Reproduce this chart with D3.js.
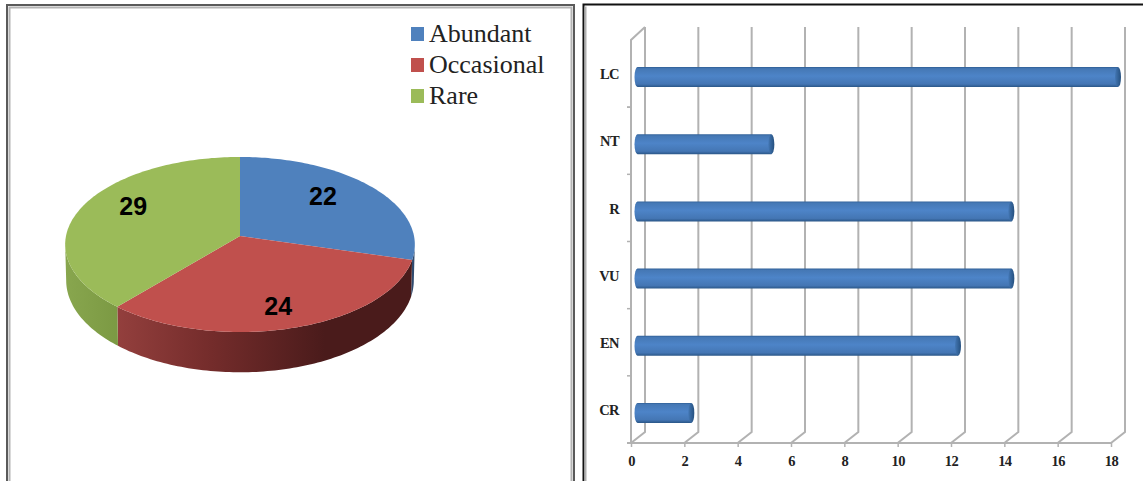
<!DOCTYPE html>
<html>
<head>
<meta charset="utf-8">
<script src="https://cdn.jsdelivr.net/npm/d3@7/dist/d3.min.js"></script>
<style>
html,body{margin:0;padding:0;background:#fff;overflow:hidden}
svg{display:block}
</style>
</head>
<body>
<svg id="chart" width="1143" height="481"></svg>
<script>
// Abundance classes (pie)
const abundanceClasses = ["Abundant", "Occasional", "Rare"];
const abundanceCounts = [22, 24, 29];
const abundanceColors = ["#4f81bd", "#c0504d", "#9bbb59"];

// Threat status (bars)
const statusCategories = ["CR", "EN", "VU", "R", "NT", "LC"];
const statusCounts = [2, 12, 14, 14, 5, 18];
const countTicks = [0, 2, 4, 6, 8, 10, 12, 14, 16, 18];

const svg = d3.select("#chart");
const defs = svg.append("defs");

function linearGradient(id, attrs, stops) {
  const g = defs.append("linearGradient").attr("id", id);
  Object.entries(attrs).forEach(([k, v]) => g.attr(k, v));
  stops.forEach(([o, c]) => g.append("stop").attr("offset", o).attr("stop-color", c));
}

/* ---------- panel frames ---------- */
const frames = svg.append("g").attr("fill", "none");
frames.append("path").attr("d", "M7,481V5H574V481").attr("stroke", "#5a5a5a").attr("stroke-width", 2);
frames.append("path").attr("d", "M9.5,481V7.5H571.5V481").attr("stroke", "#b4b4b4").attr("stroke-width", 2);
frames.append("path").attr("d", "M583.5,481V4.5H1143").attr("stroke", "#111").attr("stroke-width", 2);
frames.append("path").attr("d", "M585.5,481V6.5").attr("stroke", "#b0b0b0").attr("stroke-width", 2);

/* ---------- 3-D pie ---------- */
const disc = {cx: 240, cy: 236, rx: 174, ry: 86.7, k: 0.097};
const base = {cx: 240, cy: 271.5, rx: 173, ry: 91, k: 0.097};

// Projects a point of a tilted disc, nearer points appearing larger
function project(d, angle, r = 1) {
  const u = r * Math.sin(angle), v = -r * Math.cos(angle);
  const s = 1 / (1 - d.k * v);
  return [d.cx + d.rx * u * s, d.cy + d.ry * v * s];
}
function arcPoints(d, a0, a1) {
  const n = Math.max(2, Math.ceil(Math.abs(a1 - a0) / 0.02));
  return d3.range(n + 1).map(i => project(d, a0 + (a1 - a0) * i / n));
}

const pieLayout = d3.pie().sort(null)(abundanceCounts);
const wallFrom = Math.acos(-disc.k);
const wallTo = 2 * Math.PI - wallFrom;

linearGradient("wall0", {gradientUnits: "userSpaceOnUse", x1: 395, x2: 415, y1: 0, y2: 0},
  [[0, "#2f4a6e"], [1, "#2f4a6e"]]);
linearGradient("wall1", {gradientUnits: "userSpaceOnUse", x1: 118, x2: 325, y1: 0, y2: 0},
  [[0, "#933f3d"], [0.45, "#742c2b"], [1, "#4a1b1b"]]);
linearGradient("wall2", {gradientUnits: "userSpaceOnUse", x1: 66, x2: 119, y1: 0, y2: 0},
  [[0, "#88a64e"], [1, "#7b9943"]]);

const line = d3.line();
const pieGroup = svg.append("g");

// Side walls, only on the part of the rim that faces the viewer
pieGroup.selectAll("path.wall").data(pieLayout).join("path")
  .attr("class", "wall")
  .attr("fill", d => `url(#wall${d.index})`)
  .attr("d", d => {
    const a0 = Math.max(d.startAngle, wallFrom), a1 = Math.min(d.endAngle, wallTo);
    if (a1 <= a0) return null;
    return line([...arcPoints(disc, a0, a1), ...arcPoints(base, a1, a0)]) + "Z";
  });

// Top faces
pieGroup.selectAll("path.top").data(pieLayout).join("path")
  .attr("class", "top")
  .attr("fill", d => abundanceColors[d.index])
  .attr("d", d => line([[disc.cx, disc.cy], ...arcPoints(disc, d.startAngle, d.endAngle)]) + "Z");

// Value labels, placed along each slice's middle angle
const labelPlacement = [{r: 0.62, dy: -8.5}, {r: 0.71, dy: 7}, {r: 0.67, dy: -10}];
pieGroup.selectAll("text").data(pieLayout).join("text")
  .attr("transform", d => {
    const p = project(disc, (d.startAngle + d.endAngle) / 2, labelPlacement[d.index].r);
    return `translate(${p[0]},${p[1] + labelPlacement[d.index].dy})`;
  })
  .attr("text-anchor", "middle")
  .attr("dy", "0.35em")
  .attr("font-family", "Liberation Sans")
  .attr("font-weight", "bold")
  .attr("font-size", 25)
  .attr("fill", "#000")
  .text(d => d.data);

// Legend
const legendY = d3.scalePoint().domain(abundanceClasses).range([34, 96]);
const legend = svg.append("g").selectAll("g").data(abundanceClasses).join("g")
  .attr("transform", d => `translate(411,${legendY(d)})`);
legend.append("rect").attr("x", 0).attr("y", -7).attr("width", 13).attr("height", 14)
  .attr("fill", (d, i) => abundanceColors[i]);
legend.append("text").attr("x", 18).attr("y", 8)
  .attr("font-family", "Liberation Serif").attr("font-size", 26).attr("fill", "#222")
  .text(d => d);

/* ---------- 3-D horizontal bars ---------- */
const plot = {left: 631, right: 1111, top: 40, bottom: 443, dx: 14, dy: -11, barH: 20};
const x = d3.scaleLinear().domain([0, 18]).range([plot.left, plot.right]);
const y = d3.scaleBand().domain(statusCategories).range([plot.bottom, plot.top]);
const gridColor = "#b2b2b2";

const bars3d = svg.append("g");

// Back-wall grid with the floor segment running to the front axis
bars3d.append("g").selectAll("path").data(countTicks).join("path")
  .attr("fill", "none").attr("stroke", gridColor).attr("stroke-width", 2)
  .attr("d", t => line([
    [x(t), plot.bottom],
    [x(t) + plot.dx, plot.bottom + plot.dy],
    [x(t) + plot.dx, plot.top + plot.dy - 2]
  ]));

// Front vertical wall edge and its top return
bars3d.append("path").attr("fill", "none").attr("stroke", gridColor).attr("stroke-width", 2)
  .attr("d", line([[plot.left, plot.bottom], [plot.left, plot.top], [plot.left + plot.dx, plot.top + plot.dy - 2]]));

// Ticks sit on the band boundaries of the category axis
const boundaries = statusCategories.map(c => y(c)).concat(plot.bottom - y.bandwidth() * statusCategories.length);
bars3d.append("g").selectAll("line").data(boundaries).join("line")
  .attr("x1", plot.left - 4).attr("x2", plot.left)
  .attr("y1", d => d + y.bandwidth()).attr("y2", d => d + y.bandwidth())
  .attr("stroke", gridColor).attr("stroke-width", 1.5);

// Category labels
const yAxis = d3.axisLeft(y).tickSize(0).tickPadding(12);
const yG = bars3d.append("g").attr("transform", `translate(${plot.left},1)`).call(yAxis);
yG.select(".domain").remove();
yG.selectAll("text").attr("font-family", "Liberation Serif").attr("font-weight", "bold")
  .attr("font-size", 14.5).attr("letter-spacing", -0.6).attr("fill", "#222");

// Count axis
const xAxis = d3.axisBottom(x).tickValues(countTicks).tickSize(4).tickPadding(9).tickFormat(d3.format("d"));
const xG = bars3d.append("g").attr("transform", `translate(0,${plot.bottom})`).call(xAxis);
xG.select(".domain").attr("d", `M${plot.left - 4},0H${plot.right}`).attr("stroke", gridColor).attr("stroke-width", 2);
xG.selectAll("line").attr("stroke", gridColor).attr("stroke-width", 1.5);
xG.selectAll("text").attr("font-family", "Liberation Serif").attr("font-weight", "bold")
  .attr("font-size", 14.5).attr("letter-spacing", -0.6).attr("fill", "#222");

// Cylinders
linearGradient("cyl", {x1: 0, x2: 0, y1: 0, y2: 1},
  [[0, "#2f5f96"], [0.08, "#4578b5"], [0.45, "#4d84c8"], [0.85, "#4476b4"], [1, "#2a5687"]]);
linearGradient("capFace", {x1: 0, x2: 1, y1: 0, y2: 0},
  [[0, "#4377b4"], [1, "#25507f"]]);

const barData = statusCategories.map((c, i) => ({category: c, value: statusCounts[i]}));
const barG = bars3d.append("g").selectAll("g").data(barData).join("g")
  .attr("transform", d => `translate(0,${y(d.category) + y.bandwidth() / 2 + 3.5 - plot.barH / 2})`);
const barX0 = plot.left + plot.dx / 2;
barG.append("path")
  .attr("fill", "url(#cyl)")
  .attr("d", d => {
    const x1 = x(d.value) + plot.dx / 2, h = plot.barH;
    return `M${x1},0H${barX0 - 0.5}A3,${h / 2} 0 0 0 ${barX0 - 0.5},${h}H${x1}Z`;
  });
barG.append("ellipse")
  .attr("cx", d => x(d.value) + plot.dx / 2)
  .attr("cy", plot.barH / 2)
  .attr("rx", 3).attr("ry", plot.barH / 2)
  .attr("fill", "url(#capFace)");
</script>
</body>
</html>
